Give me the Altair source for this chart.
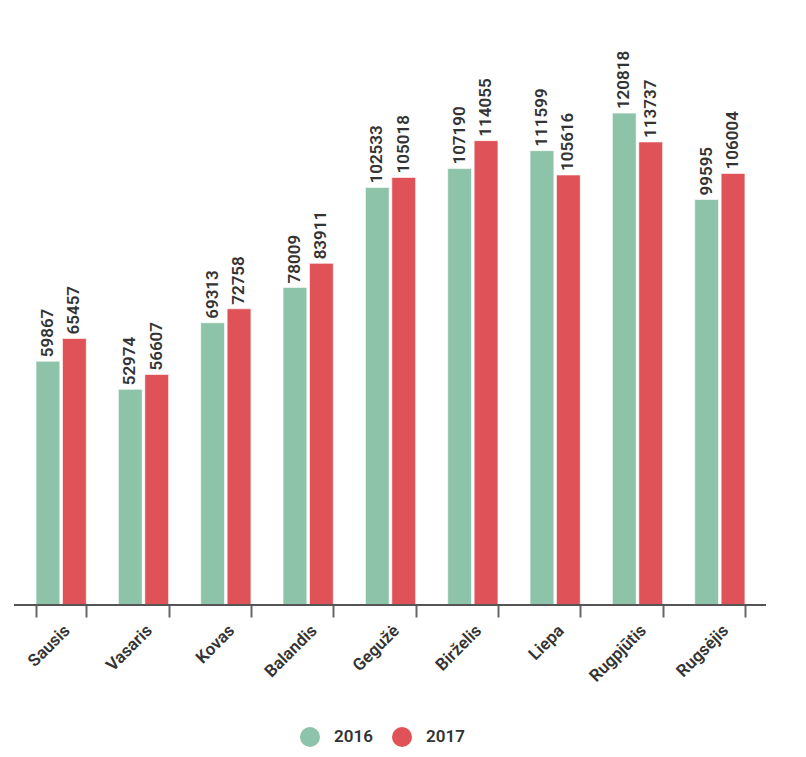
import altair as alt
import pandas as pd

months = ["Sausis", "Vasaris", "Kovas", "Balandis", "Gegužė", "Birželis", "Liepa", "Rugpjūtis", "Rugsėjis"]
v2016 = [59867, 52974, 69313, 78009, 102533, 107190, 111599, 120818, 99595]
v2017 = [65457, 56607, 72758, 83911, 105018, 114055, 105616, 113737, 106004]
years = ["2016", "2017"]
colors = ["#8dc3a8", "#df5257"]

rows = []
for i, m in enumerate(months):
    rows.append({"month": m, "year": "2016", "value": v2016[i]})
    rows.append({"month": m, "year": "2017", "value": v2017[i]})
df = pd.DataFrame(rows)

W = 741
H = 570
FONT = "Roboto"

base = alt.Chart(df).encode(
    x=alt.X(
        "month:N",
        sort=months,
        scale=alt.Scale(paddingInner=0.39, paddingOuter=0.195),
        axis=alt.Axis(
            title=None, labelAngle=-45, tickBand="extent", domain=False,
            ticks=True, tickSize=12, tickWidth=2, tickColor="#666",
            labelFontSize=17, labelColor="#333", labelFont=FONT,
            labelFontWeight=600, labelPadding=5,
        ),
    ),
    xOffset=alt.XOffset("year:N", sort=years, scale=alt.Scale(paddingInner=0.1)),
    y=alt.Y("value:Q", scale=alt.Scale(domain=[0, 140000]), axis=None),
)

bars = base.mark_bar(stroke="white", strokeWidth=1, strokeOpacity=0.6).encode(
    color=alt.Color(
        "year:N",
        scale=alt.Scale(domain=years, range=colors),
        legend=alt.Legend(
            orient="none", legendX=280, legendY=692, direction="horizontal",
            title=None, symbolType="circle", symbolSize=400, symbolStrokeWidth=0,
            labelFontSize=17, labelFont=FONT, labelFontWeight=600, labelColor="#333",
            labelOffset=14, columnPadding=19, padding=0,
        ),
    )
)

labels = base.mark_text(
    angle=270, align="left", baseline="middle", dx=4,
    fontSize=17, font=FONT, fontWeight=600, color="#333",
).encode(text=alt.Text("value:Q", format="d"))

axis_line = alt.Chart(pd.DataFrame({"a": [0]})).mark_rule(color="#555", strokeWidth=2).encode(
    x=alt.value(-6), x2=alt.value(W + 5), y=alt.value(H)
)

chart = alt.layer(bars, labels, axis_line).properties(
    width=W, height=H,
    padding={"left": 12, "top": 27, "right": 37, "bottom": 144},
    autosize=alt.AutoSizeParams(type="none"),
).configure_view(stroke=None)

chart.save("out.html", embed_options={"renderer": "svg", "actions": False})
